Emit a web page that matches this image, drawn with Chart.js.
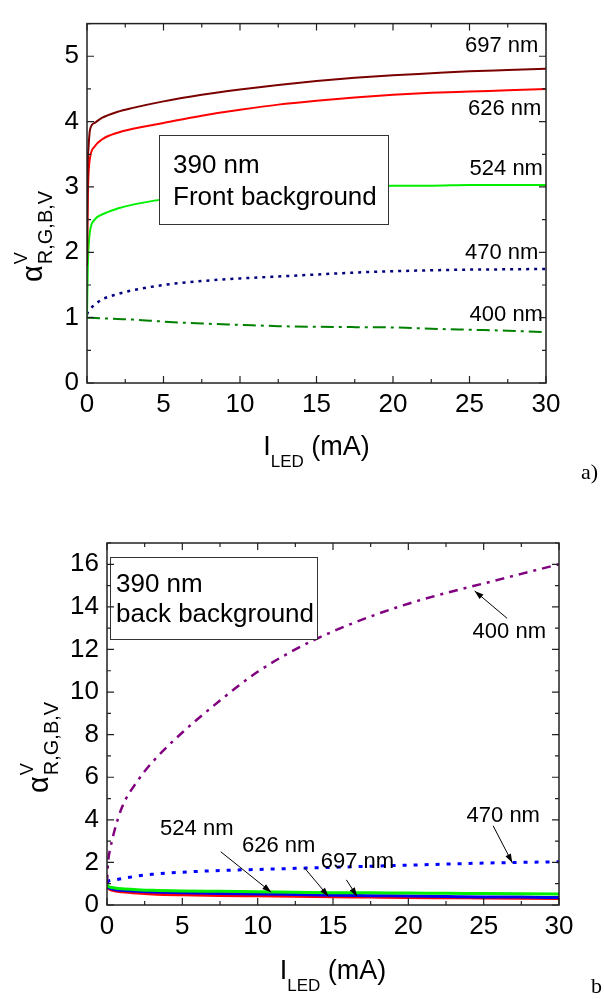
<!DOCTYPE html>
<html>
<head>
<meta charset="utf-8">
<script src="https://cdn.jsdelivr.net/npm/chart.js@4.4.1/dist/chart.umd.min.js"></script>
<style>
  body { margin: 0; background: #fff; }
  #wrapA { position: absolute; left: 0; top: 0; width: 604px; height: 495px; }
  #wrapB { position: absolute; left: 0; top: 495px; width: 604px; height: 504px; }
</style>
</head>
<body>
<div id="wrapA"><canvas id="chartA" width="604" height="495"></canvas></div>
<div id="wrapB"><canvas id="chartB" width="604" height="504"></canvas></div>
<script>
// LED current (mA) where every curve is sampled
const currentMA = [0, 0.05, 0.1, 0.2, 0.5, 1, 2, 3, 5, 7.5, 10, 12.5, 15, 17.5, 20, 22.5, 25, 27.5, 30];

// a) 390 nm, front background
const front697 = [1.8, 3.3, 3.6, 3.88, 3.98, 4.06, 4.15, 4.21, 4.31, 4.41, 4.49, 4.56, 4.62, 4.67, 4.71, 4.74, 4.77, 4.79, 4.81];
const front626 = [1.8, 2.8, 3.2, 3.45, 3.62, 3.73, 3.83, 3.89, 3.98, 4.09, 4.18, 4.26, 4.32, 4.37, 4.41, 4.44, 4.46, 4.48, 4.5];
const front524 = [1.0, 1.75, 2.08, 2.33, 2.5, 2.58, 2.67, 2.73, 2.81, 2.88, 2.93, 2.96, 2.99, 3.0, 3.02, 3.02, 3.03, 3.03, 3.03];
const front470 = [1.05, 1.08, 1.1, 1.13, 1.2, 1.28, 1.36, 1.42, 1.5, 1.56, 1.6, 1.63, 1.66, 1.69, 1.71, 1.725, 1.735, 1.74, 1.745];
const front400 = [1.0, 1.0, 1.0, 1.0, 0.995, 0.99, 0.98, 0.97, 0.94, 0.91, 0.89, 0.87, 0.86, 0.855, 0.85, 0.83, 0.815, 0.8, 0.78];

// b) 390 nm, back background
const back400 = [1.0, 1.8, 2.2, 2.6, 3.5, 4.6, 5.8, 6.7, 8.1, 9.6, 10.95, 12.0, 12.85, 13.55, 14.15, 14.65, 15.1, 15.55, 16.0];
const back470 = [1.05, 1.08, 1.12, 1.15, 1.18, 1.24, 1.36, 1.44, 1.54, 1.62, 1.67, 1.72, 1.77, 1.82, 1.87, 1.92, 1.97, 2.0, 2.03];
const back524 = [0.95, 0.9, 0.87, 0.84, 0.8, 0.76, 0.72, 0.69, 0.66, 0.64, 0.62, 0.6, 0.58, 0.57, 0.56, 0.55, 0.54, 0.53, 0.52];
const back697 = [0.92, 0.86, 0.82, 0.78, 0.73, 0.69, 0.64, 0.61, 0.57, 0.54, 0.52, 0.49, 0.46, 0.44, 0.42, 0.4, 0.38, 0.37, 0.35];
const back626 = [0.9, 0.82, 0.78, 0.73, 0.67, 0.62, 0.56, 0.52, 0.48, 0.45, 0.43, 0.41, 0.39, 0.37, 0.35, 0.34, 0.33, 0.32, 0.31];

// curve names written next to the lines (data coordinates, right edge of text)
const frontLabels = [
  { text: '697 nm', x: 29.5, y: 5.16 },
  { text: '626 nm', x: 29.7, y: 4.19 },
  { text: '524 nm', x: 29.8, y: 3.28 },
  { text: '470 nm', x: 29.5, y: 1.99 },
  { text: '400 nm', x: 29.8, y: 1.04 }
];
// back background: label centre, arrow tail, arrow tip (data coordinates)
const backLabels = [
  { text: '400 nm', x: 26.7, y: 12.8, tail: [26.56, 13.46], tip: [24.4, 14.75] },
  { text: '470 nm', x: 26.3, y: 4.19, tail: [25.63, 3.72], tip: [26.9, 1.98] },
  { text: '524 nm', x: 5.96, y: 3.58, tail: [7.55, 2.5], tip: [10.9, 0.6] },
  { text: '626 nm', x: 11.39, y: 2.78, tail: [13.11, 1.74], tip: [14.7, 0.4] },
  { text: '697 nm', x: 16.62, y: 2.02, tail: [15.89, 1.18], tip: [16.6, 0.4] }
];

const FONT = "'Liberation Sans', Arial, sans-serif";
const SERIF = "'Liberation Serif', 'Times New Roman', serif";

function pts(ys) {
  return currentMA.map((x, i) => ({ x: x, y: ys[i] }));
}

function line(label, ys, color, width, dash, order) {
  return {
    label: label,
    data: pts(ys),
    showLine: true,
    borderColor: color,
    backgroundColor: color,
    borderWidth: width,
    borderDash: dash,
    pointRadius: 0,
    fill: false,
    cubicInterpolationMode: 'monotone',
    order: order
  };
}

// frame with inward ticks on all sides, text box, labels and axis titles
function figurePlugin(cfg) {
  return {
    id: 'figure',
    afterDatasetsDraw(chart) {
      const ctx = chart.ctx;
      const a = chart.chartArea;
      const xs = chart.scales.x, ys = chart.scales.y;
      ctx.save();

      // text box
      const b = cfg.box;
      ctx.fillStyle = '#fff';
      ctx.fillRect(b.x, b.y, b.w, b.h);
      ctx.strokeStyle = '#333';
      ctx.lineWidth = 1;
      ctx.strokeRect(b.x + 0.5, b.y + 0.5, b.w, b.h);
      ctx.fillStyle = '#000';
      ctx.font = '26px ' + FONT;
      ctx.textAlign = 'left';
      ctx.textBaseline = 'alphabetic';
      b.lines.forEach((t, i) => ctx.fillText(t, b.tx, b.ty[i]));

      // curve labels and arrows
      ctx.font = '22px ' + FONT;
      ctx.textBaseline = 'middle';
      cfg.labels.forEach(l => {
        ctx.textAlign = cfg.align;
        ctx.fillText(l.text, xs.getPixelForValue(l.x), ys.getPixelForValue(l.y));
        if (l.tip) {
          const x0 = xs.getPixelForValue(l.tail[0]), y0 = ys.getPixelForValue(l.tail[1]);
          const x1 = xs.getPixelForValue(l.tip[0]), y1 = ys.getPixelForValue(l.tip[1]);
          const ang = Math.atan2(y1 - y0, x1 - x0);
          ctx.strokeStyle = '#000';
          ctx.lineWidth = 1;
          ctx.beginPath();
          ctx.moveTo(x0, y0);
          ctx.lineTo(x1, y1);
          ctx.stroke();
          ctx.beginPath();
          ctx.moveTo(x1, y1);
          ctx.lineTo(x1 - 9 * Math.cos(ang) + 3 * Math.sin(ang), y1 - 9 * Math.sin(ang) - 3 * Math.cos(ang));
          ctx.lineTo(x1 - 9 * Math.cos(ang) - 3 * Math.sin(ang), y1 - 9 * Math.sin(ang) + 3 * Math.cos(ang));
          ctx.closePath();
          ctx.fill();
        }
      });

      // frame
      ctx.strokeStyle = '#222';
      ctx.lineWidth = 1.5;
      ctx.strokeRect(a.left, a.top, a.right - a.left, a.bottom - a.top);

      // ticks
      ctx.lineWidth = 1.2;
      ctx.beginPath();
      for (let v = 0; v <= xs.max + 1e-9; v += cfg.xMinor) {
        const p = xs.getPixelForValue(v);
        const len = Math.abs(v / cfg.xMajor - Math.round(v / cfg.xMajor)) < 1e-6 ? 7 : 4;
        ctx.moveTo(p, a.bottom); ctx.lineTo(p, a.bottom - len);
        ctx.moveTo(p, a.top); ctx.lineTo(p, a.top + len);
      }
      for (let v = 0; v <= ys.max + 1e-9; v += cfg.yMinor) {
        const p = ys.getPixelForValue(v);
        const len = Math.abs(v / cfg.yMajor - Math.round(v / cfg.yMajor)) < 1e-6 ? 7 : 4;
        ctx.moveTo(a.left, p); ctx.lineTo(a.left + len, p);
        ctx.moveTo(a.right, p); ctx.lineTo(a.right - len, p);
      }
      ctx.stroke();

      // x title: I_LED (mA)
      ctx.fillStyle = '#000';
      ctx.textAlign = 'left';
      ctx.textBaseline = 'alphabetic';
      const big = '27px ' + FONT, small = '17px ' + FONT;
      ctx.font = big; const wI = ctx.measureText('I').width; const wU = ctx.measureText(' (mA)').width;
      ctx.font = small; const wS = ctx.measureText('LED').width;
      let tx = (a.left + a.right) / 2 - (wI + wS + wU) / 2;
      ctx.font = big; ctx.fillText('I', tx, cfg.xTitleY);
      ctx.font = small; ctx.fillText('LED', tx + wI, cfg.xTitleY + 12);
      ctx.font = big; ctx.fillText(' (mA)', tx + wI + wS, cfg.xTitleY);

      // y title: alpha^V_{R,G,B,V}, rotated
      ctx.translate(cfg.yTitle.x, cfg.yTitle.y);
      ctx.rotate(-Math.PI / 2);
      ctx.font = '29px ' + FONT;
      ctx.fillText('\u03b1', 0, 0);
      const wa = ctx.measureText('\u03b1').width;
      ctx.font = '20px ' + FONT;
      ctx.fillText('R,G,B,V', wa + 1, 10);
      ctx.font = '18px ' + FONT;
      ctx.fillText('V', wa + 1, -15);
      ctx.setTransform(1, 0, 0, 1, 0, 0);

      // panel letter
      ctx.font = '22px ' + SERIF;
      ctx.fillText(cfg.panel.text, cfg.panel.x, cfg.panel.y);
      ctx.restore();
    }
  };
}

function axes(yMax, yStep, xH, yW) {
  const tickFont = { family: FONT, size: 26 };
  return {
    x: {
      type: 'linear', min: 0, max: 30,
      grid: { display: false, drawTicks: false },
      border: { display: false },
      ticks: { stepSize: 5, color: '#000', font: tickFont, padding: 6, maxRotation: 0, includeBounds: false },
      afterFit: s => { s.height = xH; }
    },
    y: {
      type: 'linear', min: 0, max: yMax,
      grid: { display: false, drawTicks: false },
      border: { display: false },
      ticks: { stepSize: yStep, color: '#000', font: tickFont, padding: 8, includeBounds: false },
      afterFit: s => { s.width = yW; }
    }
  };
}

const baseOptions = {
  responsive: false,
  animation: false,
  devicePixelRatio: 1,
  plugins: { legend: { display: false }, tooltip: { enabled: false } }
};

new Chart(document.getElementById('chartA'), {
  type: 'scatter',
  data: {
    datasets: [
      line('697 nm', front697, '#7a0000', 2, [], 1),
      line('626 nm', front626, '#ff0000', 2, [], 2),
      line('524 nm', front524, '#00f000', 2, [], 3),
      line('470 nm', front470, '#000080', 2.5, [3, 5], 4),
      line('400 nm', front400, '#008000', 2, [13, 5, 3, 5], 5)
    ]
  },
  options: Object.assign({}, baseOptions, {
    layout: { padding: { top: 15, right: 58, left: 0, bottom: 0 } },
    scales: axes(5.5, 1, 112, 87)
  }),
  plugins: [figurePlugin({
    box: { x: 159, y: 135, w: 229, h: 89, tx: 173, ty: [173, 205], lines: ['390 nm', 'Front background'] },
    labels: frontLabels, align: 'right',
    xMajor: 5, xMinor: 2.5, yMajor: 1, yMinor: 0.5,
    xTitleY: 455,
    yTitle: { x: 42, y: 282 },
    panel: { text: 'a)', x: 581, y: 479 }
  })]
});

new Chart(document.getElementById('chartB'), {
  type: 'scatter',
  data: {
    datasets: [
      line('400 nm', back400, '#800080', 2.5, [9, 6, 3, 6], 1),
      line('470 nm', back470, '#0000ff', 3, [4, 7], 2),
      line('524 nm', back524, '#00f000', 3, [], 3),
      line('697 nm', back697, '#0000ee', 3, [], 4),
      line('626 nm', back626, '#ff0000', 3, [], 5)
    ]
  },
  options: Object.assign({}, baseOptions, {
    layout: { padding: { top: 48, right: 45, left: 0, bottom: 0 } },
    scales: axes(17, 2, 94, 107)
  }),
  plugins: [figurePlugin({
    box: { x: 110, y: 62, w: 207, h: 82, tx: 116, ty: [97, 127], lines: ['390 nm', 'back background'] },
    labels: backLabels, align: 'center',
    xMajor: 5, xMinor: 2.5, yMajor: 2, yMinor: 1,
    xTitleY: 484,
    yTitle: { x: 48, y: 298 },
    panel: { text: 'b', x: 591, y: 498 }
  })]
});
</script>
</body>
</html>
